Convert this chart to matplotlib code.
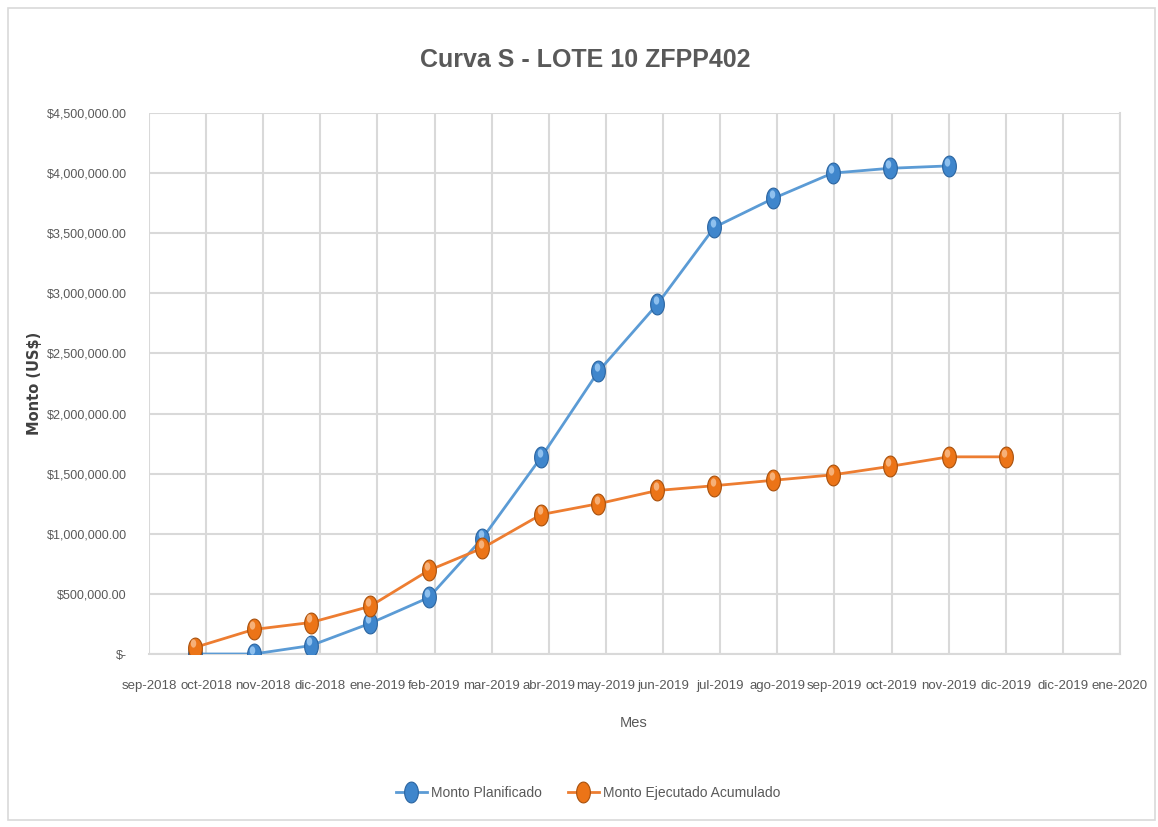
import datetime as dt
import numpy as np
import matplotlib
matplotlib.use('Agg')
import matplotlib.pyplot as plt
from matplotlib.patches import Rectangle
from matplotlib.transforms import offset_copy

# datos
fechas_plan = ['2018-10-01', '2018-11-01', '2018-12-01', '2019-01-01', '2019-02-01',
               '2019-03-01', '2019-04-01', '2019-05-01', '2019-06-01', '2019-07-01',
               '2019-08-01', '2019-09-01', '2019-10-01', '2019-11-01']
monto_planificado = [0, 0, 70000, 254000, 470000, 960000, 1637000, 2350000,
                     2910000, 3550000, 3790000, 4000000, 4040000, 4060000]

fechas_ejec = fechas_plan + ['2019-12-01']
monto_ejecutado = [54000, 204000, 262000, 396000, 696000, 880000, 1160000, 1250000,
                   1360000, 1400000, 1445000, 1490000, 1560000, 1640000, 1640000]

etiquetas_x = ['sep-2018', 'oct-2018', 'nov-2018', 'dic-2018', 'ene-2019', 'feb-2019',
               'mar-2019', 'abr-2019', 'may-2019', 'jun-2019', 'jul-2019', 'ago-2019',
               'sep-2019', 'oct-2019', 'nov-2019', 'dic-2019', 'dic-2019', 'ene-2020']

inicio = dt.date(2018, 9, 7)   # eje de fechas con unidad mayor de 30 dias
ticks_x = [inicio + dt.timedelta(days=30 * i) for i in range(len(etiquetas_x))]

plt.rcParams['font.family'] = ['Liberation Sans', 'DejaVu Sans']

W, H = 1158, 827
fig = plt.figure(figsize=(W / 100, H / 100), dpi=100)
fig.patches.append(Rectangle((8 / W, 7 / H), 1147 / W, 812 / H, transform=fig.transFigure,
                             fill=False, edgecolor='#D9D9D9', linewidth=1.2))

ax = fig.add_axes([149 / W, (H - 654) / H, (1120 - 149) / W, (654 - 113) / H])

t = np.linspace(0, 2 * np.pi, 40)
elipse = list(zip(0.66 * np.cos(t), np.sin(t)))

xp = [dt.date.fromisoformat(f) for f in fechas_plan]
xe = [dt.date.fromisoformat(f) for f in fechas_ejec]

ax.plot(xp, monto_planificado, color='#5B9BD5', lw=2, marker=elipse, ms=15,
        mfc='#3F86CC', mec='#2A64A0', mew=0.8, label='Monto Planificado', zorder=3)
ax.plot(xe, monto_ejecutado, color='#ED7D31', lw=2, marker=elipse, ms=15,
        mfc='#EC7417', mec='#A8500C', mew=0.8, label='Monto Ejecutado Acumulado', zorder=4)

# brillo de las esferas
brillo = offset_copy(ax.transData, fig=fig, x=-1, y=3, units='points')
ax.plot(xp, monto_planificado, ls='none', marker=elipse, ms=6, mfc='#8EC0EE',
        mec='none', transform=brillo, zorder=3.5)
ax.plot(xe, monto_ejecutado, ls='none', marker=elipse, ms=6, mfc='#F6B078',
        mec='none', transform=brillo, zorder=4.5)

ax.set_xlim(ticks_x[0], ticks_x[-1])
ax.set_ylim(0, 4500000)
ax.set_xticks(ticks_x)
ax.set_xticklabels(etiquetas_x)
ax.set_yticks(np.arange(0, 4500001, 500000))
ax.yaxis.set_major_formatter(plt.FuncFormatter(
    lambda v, p: '$-' if v == 0 else '${:,.2f}'.format(v)))

ax.grid(True, color='#D9D9D9', lw=1.5)
ax.set_axisbelow(True)
for s in ['left', 'top']:
    ax.spines[s].set_visible(False)
ax.spines['right'].set_color('#D9D9D9')
ax.spines['right'].set_linewidth(1.5)
ax.spines['bottom'].set_color('#D9D9D9')
ax.spines['bottom'].set_linewidth(1.5)
ax.tick_params(length=0, labelcolor='#595959')
ax.tick_params(axis='x', pad=19, labelsize=9.5)
ax.tick_params(axis='y', pad=16, labelsize=9)

fig.text(585 / W, 1 - 60 / H, 'Curva S - LOTE 10 ZFPP402', ha='center', va='center',
         fontsize=18, fontweight='bold', color='#595959')
fig.text(34 / W, 1 - 383 / H, 'Monto (US$)', rotation=90, ha='center', va='center',
         fontsize=10.5, fontweight='bold', color='#404040', family='DejaVu Sans')
fig.text(634 / W, 1 - 723 / H, 'Mes', ha='center', va='center', fontsize=10.5, color='#595959')

fig.legend(loc='center', bbox_to_anchor=(588 / W, 1 - 793 / H), ncol=2, frameon=False,
           fontsize=10, labelcolor='#595959', handlelength=2.2, columnspacing=1.9,
           handletextpad=0.3)

fig.savefig('out.png', dpi=100)
